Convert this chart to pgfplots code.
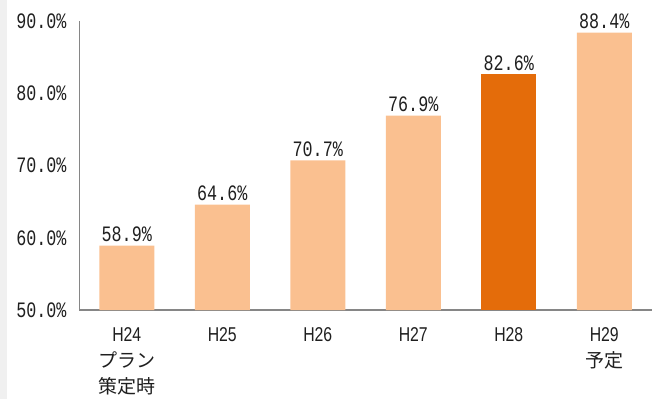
\documentclass[border=0pt]{standalone}
\usepackage{pgfplots}
\pgfplotsset{compat=1.18}
\usepackage{fontspec}
\setmainfont{Liberation Sans}[FakeStretch=0.79]
\newfontfamily\numfont{Liberation Mono}[FakeStretch=0.76]
\newfontfamily\jp{Noto Sans CJK JP}
\definecolor{lightbar}{HTML}{FAC090}
\definecolor{darkbar}{HTML}{E46C0A}
\definecolor{axisgray}{HTML}{868686}
\definecolor{txt}{HTML}{1F1F1F}
\begin{document}
\begin{tikzpicture}
\path[use as bounding box] (0,0) rectangle (652pt,399pt);
\fill[gray!12] (0,0) rectangle (7pt,399pt);
\begin{axis}[
  at={(79pt,89pt)}, anchor=south west,
  scale only axis, width=573pt, height=289pt,
  xmin=-0.5, xmax=5.5, ymin=50, ymax=90,
  axis x line*=bottom, axis y line*=left,
  x axis line style={draw=axisgray, line width=1.7pt},
  y axis line style={draw=axisgray, line width=0.9pt},
  major tick length=0pt,
  xtick={0,1,2,3,4,5},
  xticklabels={{H24\\{\jp\fontsize{19}{26}\selectfont プラン}\\{\jp\fontsize{19}{26}\selectfont 策定時}},H25,H26,H27,H28,{H29\\{\jp\fontsize{19}{26}\selectfont 予定}}},
  xticklabel style={align=center, font=\fontsize{20}{26}\selectfont, text=txt, yshift=-14pt},
  ytick={50,60,70,80,90},
  yticklabel={\pgfmathprintnumber[fixed,fixed zerofill,precision=1]{\tick}\%},
  yticklabel style={font=\numfont\fontsize{22}{24}\selectfont, text=txt, xshift=-9pt},
  /pgf/number format/assume math mode=true,
  ybar, bar width=55pt, bar shift=0pt,
  nodes near coords={\pgfmathprintnumber[fixed,fixed zerofill,precision=1]{\pgfplotspointmeta}\%},
  nodes near coords style={font=\numfont\fontsize{22}{24}\selectfont, text=txt, anchor=south, yshift=0pt},
  clip=false,
]
\addplot[fill=lightbar, draw=none] coordinates {(0,58.9) (1,64.6) (2,70.7) (3,76.9) (5,88.4)};
\addplot[fill=darkbar, draw=none] coordinates {(4,82.6)};
\end{axis}
\end{tikzpicture}
\end{document}
